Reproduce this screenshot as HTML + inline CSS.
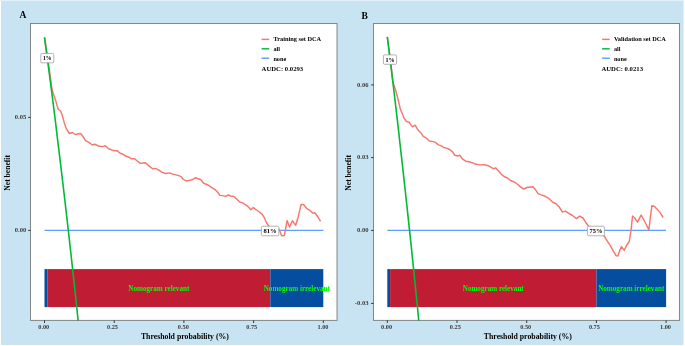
<!DOCTYPE html>
<html><head><meta charset="utf-8"><style>
html,body{margin:0;padding:0;background:#fff;}
svg{display:block;will-change:transform;}
text{font-family:"Liberation Serif",serif;font-weight:bold;}
.tk{font-size:6.3px;fill:#3c3c3c;}
.bt{font-size:7.4px;fill:#00ff00;}
.lb{font-size:6.8px;fill:#000;}
.at{font-size:7.6px;fill:#000;text-anchor:middle;}
.pl{font-size:9.5px;fill:#000;}
.lg{font-size:7.0px;fill:#000;}
.au{font-size:6.7px;fill:#000;}
</style></head><body>
<svg width="685" height="346" viewBox="0 0 685 346">
<rect x="0" y="0" width="685" height="346" fill="#fff"/>
<rect x="0" y="0" width="684" height="1" fill="#e4f1f8"/>
<rect x="683" y="1" width="1" height="344" fill="#e6f2f9"/>
<rect x="1" y="1" width="682" height="344" fill="#c8e4f2"/>
<rect x="30.5" y="23.5" width="306.5" height="296.9" fill="#fff"/>
<rect x="44.5" y="269.1" width="2.7879999999999967" height="38.0" fill="#054d9f"/>
<rect x="47.288" y="269.1" width="223.04000000000002" height="38.0" fill="#c01d34"/>
<rect x="270.32800000000003" y="269.1" width="52.97199999999998" height="38.0" fill="#054d9f"/>
<text x="128.30800000000002" y="290.7" class="bt" textLength="61" lengthAdjust="spacingAndGlyphs">Nomogram relevant</text>
<text x="263.714" y="290.7" class="bt" textLength="66.2" lengthAdjust="spacingAndGlyphs">Nomogram irrelevant</text>
<line x1="44.5" y1="230.4" x2="323.3" y2="230.4" stroke="#619CFF" stroke-width="1.1"/>
<polyline points="44.5,37.3 48.4,63.0 52.1,90.0 54.1,96.1 56.1,102.1 58.2,109.2 60.8,111.2 62.2,115.3 64.2,122.4 66.2,128.4 69.3,133.5 72.3,132.5 75.3,134.5 80.4,133.5 82.4,135.5 85.5,140.6 88.5,142.2 92.5,145.0 94.6,144.2 98.6,146.0 102.7,146.6 105.3,145.8 108.7,148.7 110.0,149.2 112.0,150.2 115.1,150.8 117.1,150.6 120.1,153.3 123.2,154.3 126.2,156.3 129.2,157.3 131.2,158.9 134.3,158.7 137.3,161.0 140.3,163.4 143.4,163.0 145.4,162.8 148.4,165.4 152.5,168.8 155.5,168.4 158.6,169.9 161.6,172.1 165.6,173.5 169.7,172.9 172.7,174.1 176.8,175.1 178.0,175.4 181.1,176.6 183.1,179.2 186.1,181.0 189.2,180.4 192.2,179.8 195.2,177.8 198.3,178.8 200.9,179.8 203.7,183.3 207.4,184.7 211.4,187.3 215.5,189.9 217.5,192.0 219.9,195.4 222.5,195.6 225.6,196.4 228.2,195.0 230.6,196.0 233.7,196.4 236.7,199.0 239.7,201.9 242.9,203.0 245.8,204.9 248.7,207.3 250.8,209.8 253.3,207.6 255.9,209.5 259.5,212.0 262.4,214.6 264.6,218.2 266.7,223.2 268.9,226.1 270.5,230.4 275.0,231.0 279.0,229.0 280.1,231.8 281.6,235.8 284.2,235.5 285.2,231.1 287.1,220.6 289.5,227.1 292.4,220.7 295.7,225.3 298.2,216.7 301.1,204.4 303.5,204.4 306.8,208.7 309.7,210.2 312.6,213.1 314.8,212.8 317.7,216.7 320.6,221.4" fill="none" stroke="#F8766D" stroke-width="1.45" stroke-linejoin="round"/>
<polyline points="44.5,37.4 45.9,47.8 47.3,58.3 48.7,68.9 50.1,79.6 51.5,90.4 52.9,101.3 54.3,112.4 55.7,123.5 57.0,134.8 58.4,146.2 59.8,157.7 61.2,169.3 62.6,181.1 64.0,193.0 65.4,205.0 66.8,217.1 68.2,229.4 69.6,241.8 71.0,254.4 72.4,267.1 73.8,279.9 75.2,292.9 76.6,306.0 78.0,319.3 78.1,320.4" fill="none" stroke="#00BA38" stroke-width="1.6"/>
<rect x="40.8" y="53.4" width="13.0" height="9.4" rx="1.2" fill="#fff" stroke="#a0a0a0" stroke-width="0.8"/>
<text x="42.9" y="60.300000000000004" class="lb" textLength="8.8" lengthAdjust="spacingAndGlyphs">1%</text>
<rect x="261.40000000000003" y="226.2" width="17.4" height="9.6" rx="1.2" fill="#fff" stroke="#a0a0a0" stroke-width="0.8"/>
<text x="263.6" y="233.2" class="lb" textLength="13.0" lengthAdjust="spacingAndGlyphs">81%</text>
<rect x="30.5" y="23.5" width="306.5" height="296.9" fill="none" stroke="#333" stroke-opacity="0.56" stroke-width="1"/>
<line x1="44.5" y1="320.4" x2="44.5" y2="323.0" stroke="#333" stroke-width="1"/>
<text x="43.75" y="329.2" class="tk" text-anchor="middle">0.00</text>
<line x1="114.2" y1="320.4" x2="114.2" y2="323.0" stroke="#333" stroke-width="1"/>
<text x="112.5" y="329.2" class="tk" text-anchor="middle">0.25</text>
<line x1="183.9" y1="320.4" x2="183.9" y2="323.0" stroke="#333" stroke-width="1"/>
<text x="183.3" y="329.2" class="tk" text-anchor="middle">0.50</text>
<line x1="253.60000000000002" y1="320.4" x2="253.60000000000002" y2="323.0" stroke="#333" stroke-width="1"/>
<text x="251.7" y="329.2" class="tk" text-anchor="middle">0.75</text>
<line x1="323.3" y1="320.4" x2="323.3" y2="323.0" stroke="#333" stroke-width="1"/>
<text x="323.0" y="329.2" class="tk" text-anchor="middle">1.00</text>
<line x1="28.1" y1="117.4" x2="30.5" y2="117.4" stroke="#333" stroke-width="1"/>
<text x="26.3" y="119.0" class="tk" style="font-size:6.6px" text-anchor="end">0.05</text>
<line x1="28.1" y1="230.4" x2="30.5" y2="230.4" stroke="#333" stroke-width="1"/>
<text x="26.3" y="232.0" class="tk" style="font-size:6.6px" text-anchor="end">0.00</text>
<text x="140.9" y="338.5" class="at" style="text-anchor:start" textLength="88" lengthAdjust="spacingAndGlyphs">Threshold probability (%)</text>
<text transform="translate(10.2,172.85) rotate(-90)" class="at">Net benefit</text>
<text x="19.6" y="17.8" class="pl">A</text>
<line x1="261.6" y1="39.4" x2="269.20000000000005" y2="39.4" stroke="#F8766D" stroke-width="1.45"/>
<text x="273.40000000000003" y="41.3" class="lg" textLength="47.8" lengthAdjust="spacingAndGlyphs">Training set DCA</text>
<line x1="261.6" y1="48.8" x2="269.20000000000005" y2="48.8" stroke="#00BA38" stroke-width="1.45"/>
<text x="273.40000000000003" y="50.9" class="lg" textLength="6.6" lengthAdjust="spacingAndGlyphs">all</text>
<line x1="261.6" y1="58.2" x2="269.20000000000005" y2="58.2" stroke="#619CFF" stroke-width="1.45"/>
<text x="273.40000000000003" y="60.5" class="lg" textLength="12.8" lengthAdjust="spacingAndGlyphs">none</text>
<text x="261.6" y="70.5" class="au">AUDC: 0.0293</text>
<rect x="373.5" y="23.5" width="306.0" height="296.9" fill="#fff"/>
<rect x="387.3" y="269.1" width="2.788000000000011" height="38.0" fill="#054d9f"/>
<rect x="390.088" y="269.1" width="206.31200000000007" height="38.0" fill="#c01d34"/>
<rect x="596.4000000000001" y="269.1" width="69.69999999999993" height="38.0" fill="#054d9f"/>
<text x="462.744" y="290.7" class="bt" textLength="61" lengthAdjust="spacingAndGlyphs">Nomogram relevant</text>
<text x="598.15" y="290.7" class="bt" textLength="66.2" lengthAdjust="spacingAndGlyphs">Nomogram irrelevant</text>
<line x1="387.3" y1="230.4" x2="666.1" y2="230.4" stroke="#619CFF" stroke-width="1.1"/>
<polyline points="387.3,36.8 391.1,64.9 392.8,81.7 395.4,89.5 398.0,99.0 400.3,109.0 402.2,113.5 404.0,118.1 406.1,121.2 409.1,122.2 411.1,125.2 412.5,126.8 415.2,125.2 417.2,128.9 419.2,131.3 421.2,133.3 423.3,136.4 425.9,137.8 429.3,141.0 432.4,141.4 435.4,142.4 438.4,144.9 441.5,145.9 443.5,147.5 446.5,148.1 449.6,149.5 452.6,151.9 454.6,155.2 457.7,156.0 459.7,155.2 462.7,159.2 465.7,161.2 469.0,161.8 472.1,162.7 476.1,164.3 480.2,164.9 484.2,164.7 488.3,165.7 490.3,166.9 493.3,168.7 495.8,167.9 498.4,170.8 501.4,174.4 504.4,176.8 507.5,178.0 510.5,180.5 513.6,181.7 516.6,183.5 519.6,186.1 523.7,189.2 526.7,187.5 530.4,187.0 533.0,186.8 535.1,189.2 538.1,193.7 541.1,194.9 545.2,196.3 549.2,198.7 552.3,201.8 556.3,204.0 559.3,207.0 562.4,212.1 565.4,211.1 568.4,213.1 572.5,215.5 576.5,218.6 579.6,216.1 583.0,218.0 585.6,222.2 588.7,226.2 596.4,230.4 603.9,235.5 607.3,241.1 610.3,245.6 613.4,251.2 616.0,255.6 617.9,256.0 620.1,249.6 621.5,246.6 624.2,250.4 626.5,245.5 629.2,241.5 631.1,229.9 632.5,216.0 634.5,217.7 637.5,222.1 641.1,215.1 644.1,220.3 646.7,225.5 648.9,229.9 650.1,219.5 651.9,205.6 654.5,206.5 657.9,209.9 660.5,213.1 663.1,217.7" fill="none" stroke="#F8766D" stroke-width="1.45" stroke-linejoin="round"/>
<polyline points="387.3,36.8 388.7,48.0 390.1,59.4 391.5,70.8 392.9,82.4 394.3,94.0 395.7,105.8 397.1,117.8 398.5,129.8 399.8,142.0 401.2,154.3 402.6,166.7 404.0,179.3 405.4,192.0 406.8,204.8 408.2,217.8 409.6,230.9 411.0,244.2 412.4,257.6 413.8,271.1 415.2,284.9 416.6,298.7 418.0,312.7 418.7,320.4" fill="none" stroke="#00BA38" stroke-width="1.6"/>
<rect x="383.4" y="54.9" width="13.2" height="9.4" rx="1.2" fill="#fff" stroke="#a0a0a0" stroke-width="0.8"/>
<text x="385.4" y="61.800000000000004" class="lb" textLength="9.2" lengthAdjust="spacingAndGlyphs">1%</text>
<rect x="587.4" y="226.2" width="17.0" height="9.6" rx="1.2" fill="#fff" stroke="#a0a0a0" stroke-width="0.8"/>
<text x="589.5" y="233.2" class="lb" textLength="12.8" lengthAdjust="spacingAndGlyphs">75%</text>
<rect x="373.5" y="23.5" width="306.0" height="296.9" fill="none" stroke="#333" stroke-opacity="0.56" stroke-width="1"/>
<line x1="387.3" y1="320.4" x2="387.3" y2="323.0" stroke="#333" stroke-width="1"/>
<text x="386.6" y="329.2" class="tk" text-anchor="middle">0.00</text>
<line x1="457.0" y1="320.4" x2="457.0" y2="323.0" stroke="#333" stroke-width="1"/>
<text x="455.3" y="329.2" class="tk" text-anchor="middle">0.25</text>
<line x1="526.7" y1="320.4" x2="526.7" y2="323.0" stroke="#333" stroke-width="1"/>
<text x="525.7" y="329.2" class="tk" text-anchor="middle">0.50</text>
<line x1="596.4000000000001" y1="320.4" x2="596.4000000000001" y2="323.0" stroke="#333" stroke-width="1"/>
<text x="594.4" y="329.2" class="tk" text-anchor="middle">0.75</text>
<line x1="666.1" y1="320.4" x2="666.1" y2="323.0" stroke="#333" stroke-width="1"/>
<text x="665.5" y="329.2" class="tk" text-anchor="middle">1.00</text>
<line x1="371.1" y1="84.9" x2="373.5" y2="84.9" stroke="#333" stroke-width="1"/>
<text x="368.6" y="86.5" class="tk" style="font-size:6.6px" text-anchor="end">0.06</text>
<line x1="371.1" y1="157.6" x2="373.5" y2="157.6" stroke="#333" stroke-width="1"/>
<text x="368.6" y="159.2" class="tk" style="font-size:6.6px" text-anchor="end">0.03</text>
<line x1="371.1" y1="230.4" x2="373.5" y2="230.4" stroke="#333" stroke-width="1"/>
<text x="368.6" y="232.0" class="tk" style="font-size:6.6px" text-anchor="end">0.00</text>
<line x1="371.1" y1="303.4" x2="373.5" y2="303.4" stroke="#333" stroke-width="1"/>
<text x="368.6" y="305.0" class="tk" style="font-size:6.6px" text-anchor="end">-0.03</text>
<text x="483.8" y="338.5" class="at" style="text-anchor:start" textLength="88" lengthAdjust="spacingAndGlyphs">Threshold probability (%)</text>
<text transform="translate(350.8,172.85) rotate(-90)" class="at">Net benefit</text>
<text x="361.5" y="18.7" class="pl">B</text>
<line x1="602.1" y1="39.4" x2="609.7" y2="39.4" stroke="#F8766D" stroke-width="1.45"/>
<text x="613.9" y="41.3" class="lg" textLength="52" lengthAdjust="spacingAndGlyphs">Validation set DCA</text>
<line x1="602.1" y1="48.8" x2="609.7" y2="48.8" stroke="#00BA38" stroke-width="1.45"/>
<text x="613.9" y="50.9" class="lg" textLength="6.6" lengthAdjust="spacingAndGlyphs">all</text>
<line x1="602.1" y1="58.2" x2="609.7" y2="58.2" stroke="#619CFF" stroke-width="1.45"/>
<text x="613.9" y="60.5" class="lg" textLength="12.8" lengthAdjust="spacingAndGlyphs">none</text>
<text x="601.4" y="70.5" class="au">AUDC: 0.0213</text>
</svg>
</body></html>
